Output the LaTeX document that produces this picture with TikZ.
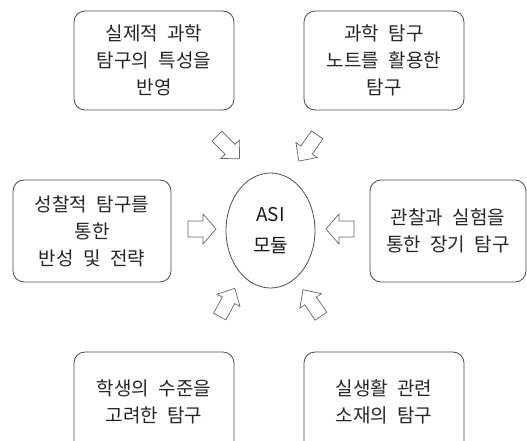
\documentclass[tikz,border=0pt]{standalone}
\usepackage{fontspec}
\setmainfont[WordSpace=2.2]{Noto Sans CJK KR}
\usetikzlibrary{shapes.geometric}
\tikzset{
  x=1pt, y=1pt,
  linecol/.style={draw=black!70, line width=0.8pt},
  box/.style={linecol, rounded corners=11pt, align=center, inner sep=0pt,
    font=\fontsize{19}{27}\selectfont, text=black!85},
  center/.style={linecol, ellipse, align=center, inner sep=0pt,
    minimum width=89pt, minimum height=115pt,
    font=\fontsize{19}{31}\selectfont, text=black!90},
  harrow/.pic={\draw[draw=black!60, line width=0.7pt, line join=miter]
    (-14,-8) -- (1,-8) -- (1,-15) -- (14,0) -- (1,15) -- (1,8) -- (-14,8) -- cycle;},
  darrow/.pic={\draw[draw=black!60, line width=0.7pt, line join=miter]
    (-16,-7) -- (2.5,-7) -- (2.5,-13) -- (16,0) -- (2.5,13) -- (2.5,7) -- (-16,7) -- cycle;}
}
\begin{document}
\begin{tikzpicture}
\useasboundingbox (0,0) rectangle (527,-441);
\clip (0,0) rectangle (527,-441);
\fill[white] (0,0) rectangle (527,-441);
% boxes
\node[box, minimum width=160pt, minimum height=99pt] (tl) at (154,-60.5)
  {실제적 과학\\탐구의 특성을\\반영};
\node[box, minimum width=160pt, minimum height=99pt] (tr) at (384,-60.5)
  {과학 탐구\\노트를 활용한\\탐구};
\node[box, minimum width=158pt, minimum height=102pt] (lf) at (92,-231)
  {성찰적 탐구를\\통한\\반성 및 전략};
\node[box, minimum width=156pt, minimum height=102pt] (rt) at (448,-231)
  {관찰과 실험을\\통한 장기 탐구};
\node[box, minimum width=160pt, minimum height=100pt] (bl) at (154,-402)
  {학생의 수준을\\고려한 탐구};
\node[box, minimum width=160pt, minimum height=100pt] (br) at (384,-402)
  {실생활 관련\\소재의 탐구};
% centre
\node[center] (asi) at (270.5,-230.5) {ASI\\모듈};
% block arrows
\pic (aL) at (202,-229) {harrow};
\pic[rotate=180] (aR) at (340,-229) {harrow};
\pic[rotate=-45] (aTL) at (228.3,-147.5) {darrow};
\pic[rotate=-125] (aTR) at (308,-148) {darrow};
\pic[rotate=62] (aBL) at (227.3,-302.5) {darrow};
\pic[rotate=124] (aBR) at (312,-303) {darrow};
\end{tikzpicture}
\end{document}
